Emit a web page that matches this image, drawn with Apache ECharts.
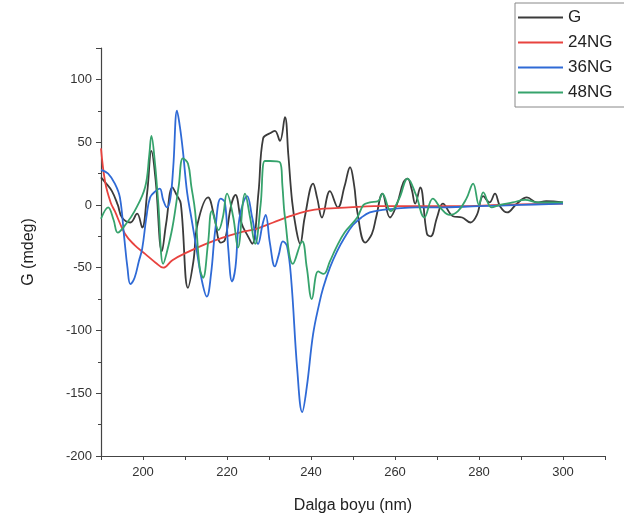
<!DOCTYPE html>
<html>
<head>
<meta charset="utf-8">
<script src="https://cdn.jsdelivr.net/npm/echarts@6/dist/echarts.min.js"></script>
<style>
    html, body { margin: 0; padding: 0; background: #fff; }
    #cdChart { width: 624px; height: 524px; }
</style>
</head>
<body>
<div id="cdChart"></div>
<script>
// series names
var seriesNames = ['G', '24NG', '36NG', '48NG'];
var seriesColors = ['#3b3b3b', '#e8433f', '#2f6ad6', '#36a36c'];

// x tick labels shown on the wavelength axis
var xTickLabels = [200, 220, 240, 260, 280, 300];

// [wavelength (nm), G (mdeg)]
var dataG = [
    [190, 22], [191, 18], [192.6, 11], [194, 0], [195, -10], [197, -14], [198.6, -7], [199.8, -18],
    [201, 10], [202, 43], [203, 20], [204.5, -37], [205.5, -15], [207, 14], [208, 8], [209, 1],
    [210.7, -66], [212, -45], [213, -15], [215.5, 6], [217, -10], [218.5, -30], [219.5, -28], [221, 0],
    [222, 8], [223.5, -15], [225, -25], [226, -31], [227.5, 10], [228.6, 53], [230.2, 57], [231.4, 59],
    [232.6, 51], [233.8, 70], [234.6, 40], [235.5, 3], [236.5, -20], [237.4, -31], [238.5, -10], [240.5, 17],
    [241.5, 5], [242.6, -10], [244.5, 11], [246.4, -2], [248, 15], [249.3, 30], [250.3, 15], [251, -5],
    [252.9, -30], [254.5, -23], [255.5, -10], [257, 9], [258.8, -10], [260.5, 1], [262, 18], [263, 21],
    [264, 12], [264.8, 1], [266, 14], [267.6, -23], [268.5, -25], [270, -10], [271.4, 1], [273.8, -9],
    [276, -10], [278, -14], [279.5, -8], [281, 7], [282.5, 2], [283.8, 9], [285, -1], [286.7, -6],
    [289, 1], [291.4, 6], [293.8, 2], [296, 3], [300, 2]
];

var data24NG = [
    [190, 45], [191, 18], [192.3, 2], [193.3, -5], [195.7, -23], [198, -32], [200.5, -39], [203, -46],
    [204.8, -50], [207, -44], [211, -37], [215, -31], [219, -26], [223, -22], [227, -19], [231, -14],
    [235, -9], [239, -5], [243, -3], [249, -2], [255, -1], [265, -1], [275, -1], [285, 0], [300, 1]
];

var data36NG = [
    [190, 28], [191.7, 25], [193.3, 17], [194.5, 6], [195.5, -25], [196.3, -50], [197, -63], [198, -58],
    [199, -45], [199.8, -35], [200.8, -10], [201.7, 6], [203, 11], [204, 13], [204.8, 4], [205.7, -2],
    [206.5, 5], [207.2, 30], [208.1, 75], [208.8, 62], [209.5, 43], [210.5, 10], [211.5, -10], [212.5, -30],
    [214, -60], [215.2, -73], [216.2, -55], [217.2, -20], [218.5, 5], [219.5, 2], [220.3, -35], [221.2, -61],
    [222, -50], [223, -10], [224.8, 7], [226, -10], [227.4, -31], [228.5, -15], [229.2, -8], [230.2, -30],
    [231.4, -49], [232.3, -40], [233.3, -29], [234.3, -33], [235.3, -60], [236.7, -130], [237.9, -165], [239, -145],
    [240.5, -103], [242, -78], [242.9, -66], [244.5, -50], [246.2, -37], [248, -26], [250, -16], [252, -10],
    [254, -6], [257, -4], [260, -3], [265, -2], [270, -2], [280, -1], [290, 0], [300, 1]
];

var data48NG = [
    [190, -11], [191.7, -2], [193, -12], [194, -22], [196, -15], [198, -5], [200.5, 14], [201.5, 40],
    [202, 55], [202.8, 35], [203.6, 3], [204.8, -47], [205.5, -40], [207, -18], [208.5, 15], [209.5, 37],
    [210.7, 33], [211.5, 15], [212.4, -5], [213.5, -50], [214.3, -58], [215.5, -30], [216.4, -5], [218, -20],
    [219, -10], [220, 9], [221.5, -10], [222.6, -34], [224.3, 9], [225.5, -10], [226.7, -31], [228, 0],
    [229, 35], [230.2, 35], [232.6, 34], [233.2, 15], [233.8, -10], [235.7, -47], [237.9, -29], [239, -50],
    [240.2, -75], [241.7, -53], [243, -55], [244.5, -45], [246, -34], [248, -22], [251, -10], [252.5, 0],
    [254, 2], [256, 3], [257, 9], [259, -5], [261, 5], [263, 21], [265, 8], [267, -10], [269, 5],
    [271, -3], [273, -8], [275, -5], [277, 5], [278.6, 17], [280, 0], [281, 10], [283, -2], [285, 0],
    [288, 2], [291, 4], [294, 2], [300, 2]
];

/**
 * CD 光谱图表
 */
function cdSpectrumChart() {
    var myChart = echarts.init(document.getElementById('cdChart'));
    var allData = [dataG, data24NG, data36NG, data48NG];
    var series = [];
    for (var i = 0; i < seriesNames.length; i++) {
        series.push({
            name: seriesNames[i],
            type: 'line',
            data: allData[i],
            smooth: 0.4,
            symbol: 'none',
            lineStyle: {width: 1.8, color: seriesColors[i]},
            itemStyle: {color: seriesColors[i]}
        });
    }
    var labelFont = {fontFamily: 'Liberation Sans', color: '#333', fontSize: 13};
    var option = {
        animation: false,
        backgroundColor: '#fff',
        grid: {left: 101, right: 19, top: 48, bottom: 68},
        legend: {
            orient: 'vertical',
            left: 515,
            top: 3,
            padding: [6, 40, 6, 3],
            borderColor: '#888',
            borderWidth: 1,
            icon: 'rect',
            itemWidth: 45,
            itemHeight: 2,
            itemGap: 8,
            textStyle: {fontFamily: 'Liberation Sans', fontSize: 17, color: '#222', lineHeight: 17},
            data: seriesNames
        },
        xAxis: {
            type: 'value',
            min: 190,
            max: 310,
            interval: 10,
            name: 'Dalga boyu (nm)',
            nameLocation: 'middle',
            nameGap: 42,
            nameTextStyle: {fontFamily: 'Liberation Sans', fontSize: 16, color: '#222'},
            axisLine: {onZero: false, lineStyle: {color: '#444', width: 1.2}},
            axisTick: {show: true, length: 4, lineStyle: {color: '#444'}},
            axisLabel: Object.assign({
                margin: 10,
                formatter: function (v) {
                    return xTickLabels.indexOf(v) >= 0 ? String(v) : '';
                }
            }, labelFont),
            splitLine: {show: false}
        },
        yAxis: {
            type: 'value',
            min: -200,
            max: 125,
            interval: 50,
            name: 'G (mdeg)',
            nameLocation: 'middle',
            nameGap: 64,
            nameTextStyle: {fontFamily: 'Liberation Sans', fontSize: 16, color: '#222'},
            axisLine: {show: true, lineStyle: {color: '#444', width: 1.2}},
            axisTick: {show: true, length: 5, lineStyle: {color: '#444'}},
            minorTick: {show: true, splitNumber: 2, length: 3, lineStyle: {color: '#444'}},
            axisLabel: Object.assign({margin: 9, showMaxLabel: false}, labelFont),
            splitLine: {show: false}
        },
        series: series
    };
    myChart.setOption(option, true);
}

cdSpectrumChart();
</script>
</body>
</html>
